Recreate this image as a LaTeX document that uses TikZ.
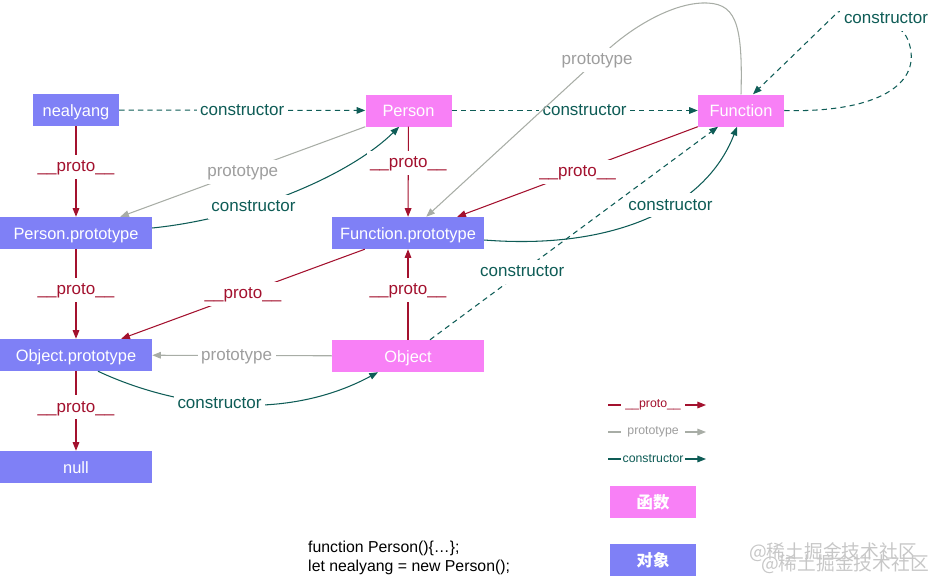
\documentclass[tikz,border=0pt]{standalone}
\usepackage{fontspec}
\setmainfont{Liberation Sans}
\newfontfamily\cjkfont{Noto Sans CJK SC}
\usetikzlibrary{arrows.meta}
\definecolor{fnpink}{HTML}{F880F6}
\definecolor{objblue}{HTML}{7F80F6}
\definecolor{protored}{HTML}{A3112E}
\definecolor{ctorteal}{HTML}{0E5C56}
\definecolor{ptypegray}{HTML}{A8ADA6}
\definecolor{ptypetext}{HTML}{9E9E9E}

\begin{document}
\begin{tikzpicture}[
		x=0.03cm,
		y=-0.03cm,
		box/.style={rectangle, text=white, minimum height=0.96cm, inner sep=0pt, text height=13pt, text depth=2.6pt, font=\fontsize{14}{16}\selectfont},
		fnbox/.style={box, fill=fnpink},
		objbox/.style={box, fill=objblue},
		small/.style={minimum width=2.58cm},
		wide/.style={minimum width=4.56cm},
		lab/.style={fill=white, inner sep=3pt, text height=11.5pt, text depth=3pt, font=\fontsize{14.5}{16}\selectfont},
		leglab/.style={fill=white, inner sep=1pt, minimum width=1.92cm, font=\fontsize{10.5}{12}\selectfont},
		tip/.style={-{Triangle[length=2.6mm, width=2mm]}},
		proto/.style={draw=protored, text=protored, line width=0.9pt, tip},
		ptype/.style={draw=ptypegray, text=ptypetext, line width=0.9pt, tip},
		ctor/.style={draw=ctorteal, text=ctorteal, line width=0.9pt, tip},
		ctordash/.style={ctor, dash pattern=on 4.5pt off 3.5pt}
	]
		\useasboundingbox (0,0) rectangle (934,581);

		\node[objbox, small] (nealyang) at (76,110) {nealyang};
		\node[fnbox, small] (person) at (408.5,110.5) {Person};
		\node[fnbox, small] (func) at (741,110.5) {Function};
		\node[objbox, wide] (personproto) at (76,233) {Person.prototype};
		\node[objbox, wide] (funcproto) at (408,233) {Function.prototype};
		\node[objbox, wide] (objproto) at (76,355) {Object.prototype};
		\node[fnbox, wide] (obj) at (408,356) {Object};
		\node[objbox, wide] (nullnode) at (76,467) {null};

		% constructor
		\draw[ctordash] (nealyang) -- node[lab]{constructor} (person);
		\draw[ctordash] (person) -- node[lab, pos=0.54]{constructor} (func);
		\draw[ctordash] (func.east) .. controls (875,113) and (925,85) .. (908,40) .. controls (900,20) and (860,5) .. (838,12) -- ([xshift=0.36cm]func.north) node[lab] at (886,19) {constructor};
		\draw[ctor] ([yshift=0.15cm]personproto.east) .. controls (250,218) and (350,175) .. ([xshift=-0.28cm]person.south) node[lab, pos=0.35]{constructor};
		\draw[ctor] ([yshift=-0.21cm]funcproto.east) .. controls (610,250) and (705,210) .. ([xshift=-0.12cm]func.south) node[lab, pos=0.6]{constructor};
		\draw[ctordash] ([xshift=0.66cm]obj.north) -- node[lab, pos=0.32]{constructor} ([xshift=-0.69cm]func.south);
		\draw[ctor] ([xshift=0.66cm]objproto.south) .. controls (170,405) and (280,425) .. ([xshift=-0.9cm]obj.south) node[lab, pos=0.47]{constructor};

		% __proto__
		\draw[proto] (nealyang) -- node[lab, pos=0.45]{\_\_proto\_\_} (personproto);
		\draw[proto] (person) -- node[lab, pos=0.4]{\_\_proto\_\_} (funcproto);
		\draw[proto] (func.south west) -- node[lab]{\_\_proto\_\_} ([xshift=-0.81cm]funcproto.north east);
		\draw[proto] (personproto) -- node[lab, pos=0.45]{\_\_proto\_\_} (objproto);
		\draw[proto] ([xshift=0.99cm]funcproto.south west) -- node[lab]{\_\_proto\_\_} ([xshift=-0.93cm]objproto.north east);
		\draw[proto] (obj) -- node[lab, pos=0.55]{\_\_proto\_\_} (funcproto);
		\draw[proto] (objproto) -- node[lab, pos=0.45]{\_\_proto\_\_} (nullnode);

		% prototype
		\draw[ptype] (person.south west) -- node[lab]{prototype} ([xshift=-0.96cm]personproto.north east);
		\draw[ptype] (func.north) .. controls (743,20) and (735,2) .. (702,3) .. controls (675,4) and (640,22) .. (612,46) -- node[lab, pos=0.08]{prototype} ([xshift=-1.74cm]funcproto.north east);
		\draw[ptype] (obj) -- node[lab, pos=0.53]{prototype} (objproto);

		% legend
		\coordinate (lgproto1) at (608,405);
		\coordinate (lgproto2) at (706,405);
		\coordinate (lgptype1) at (608,432);
		\coordinate (lgptype2) at (706,432);
		\coordinate (lgctor1) at (608,459);
		\coordinate (lgctor2) at (706,459);
		\draw[proto] (lgproto1) -- node[leglab, pos=0.46]{\_\_proto\_\_} (lgproto2);
		\draw[ptype] (lgptype1) -- node[leglab, pos=0.46]{prototype} (lgptype2);
		\draw[ctor] (lgctor1) -- node[leglab, pos=0.46]{constructor} (lgctor2);
		\node[fnbox, small, font=\cjkfont\bfseries\fontsize{14}{16}\selectfont] (lgfn) at (653,502) {函数};
		\node[objbox, small, font=\cjkfont\bfseries\fontsize{14}{16}\selectfont] (lgobj) at (653,560) {对象};

		\node[anchor=west, align=left, inner sep=0pt, font=\fontsize{13.5}{16.2}\selectfont] (code) at (308,557.5) {function Person()\{…\};\\let nealyang = new Person();};

		\node[text=black!22, font=\cjkfont\fontsize{16}{18}\selectfont] (mark1) at (833,552) {@稀土掘金技术社区};
		\node[text=black!22, font=\cjkfont\fontsize{16}{18}\selectfont] (mark2) at (845,564) {@稀土掘金技术社区};
	\end{tikzpicture}
\end{document}
